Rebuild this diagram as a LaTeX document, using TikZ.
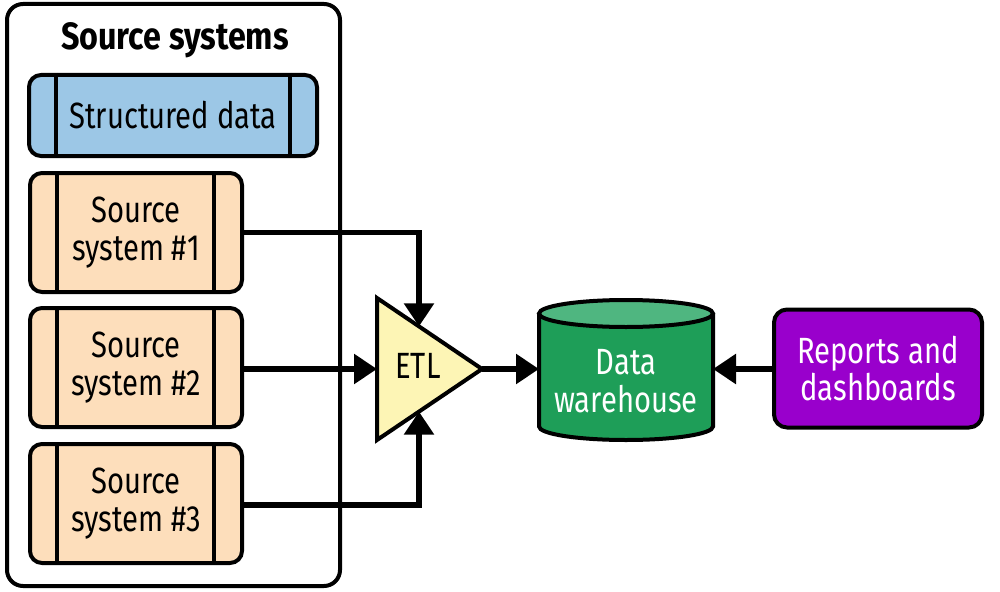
\documentclass[tikz,border=0pt]{standalone}
\usepackage{fontspec}
\setmainfont{Fira Sans}[FakeStretch=0.8]
\newfontfamily\ttlfamily{Fira Sans}[FakeStretch=0.85]
\usetikzlibrary{arrows.meta,calc}
\definecolor{peach}{HTML}{FDDEBB}
\definecolor{skyb}{HTML}{9CC7E6}
\definecolor{etly}{HTML}{FDF5B5}
\definecolor{dwbody}{HTML}{1E9E58}
\definecolor{dwtop}{HTML}{4FB680}
\definecolor{purp}{HTML}{9900CC}
\newcommand{\lblfont}{\fontsize{36.5}{37.5}\selectfont}
\newcommand{\ttlfont}{\ttlfamily\fontsize{38}{40}\selectfont\bfseries}
\begin{document}
\begin{tikzpicture}[x=1pt,y=-1pt,
  outline/.style={draw=black,line width=4pt},
  srcbox/.style={outline,rounded corners=12pt,fill=peach,minimum width=212pt,minimum height=119pt,inner sep=0pt,align=center,font=\lblfont},
  arr/.style={line width=5.5pt,-{Triangle[length=23pt,width=29pt]}},
  wlbl/.style={text=white,align=center,font=\lblfont,inner sep=0pt}]
\useasboundingbox (0,0) rectangle (1000,591);
% outer container
\node[outline,rounded corners=16pt,minimum width=333pt,minimum height=582pt,inner sep=0pt] (cont) at (173.5,295) {};
\node[font=\ttlfont,inner sep=0pt] (title) at (175,40) {Source systems};
% structured data
\node[outline,rounded corners=12pt,fill=skyb,minimum width=288pt,minimum height=81pt,inner sep=0pt,font=\lblfont] (sd) at (173,115.5) {Structured data};
\draw[outline] ($(sd.north west)+(29,0)$) -- ($(sd.south west)+(29,0)$);
\draw[outline] ($(sd.north east)+(-29,0)$) -- ($(sd.south east)+(-29,0)$);
% source systems
\node[srcbox] (s1) at (136,232.5) {Source\\system \#1};
\node[srcbox] (s2) at (136,367.5) {Source\\system \#2};
\node[srcbox] (s3) at (136,503.5) {Source\\system \#3};
\foreach \s in {s1,s2,s3}{
  \draw[outline] ($(\s.north west)+(29,0)$) -- ($(\s.south west)+(29,0)$);
  \draw[outline] ($(\s.north east)+(-30,0)$) -- ($(\s.south east)+(-30,0)$);
}
% ETL triangle
\coordinate (etlT) at (377,298);
\coordinate (etlB) at (377,440);
\coordinate (etlA) at (482,369);
\coordinate (etlL) at (377,369);
\draw[outline,fill=etly,line join=miter] (etlT) -- (etlA) -- (etlB) -- cycle;
\node[font=\lblfont,inner sep=0pt] (etl) at (418,366) {ETL};
% data warehouse cylinder
\coordinate (dwL) at (539,369);
\coordinate (dwR) at (713,369);
\fill[dwbody] (539,313.5) -- (539,426.5) arc[start angle=180,end angle=0,x radius=87,y radius=13.5] -- (713,313.5) -- cycle;
\draw[outline] (539,313.5) -- (539,426.5) arc[start angle=180,end angle=0,x radius=87,y radius=13.5] -- (713,313.5);
\draw[outline,fill=dwtop] (626,313.5) ellipse[x radius=87,y radius=13.5];
\node[wlbl] (dw) at (626,381) {Data\\warehouse};
% reports
\node[outline,rounded corners=13pt,fill=purp,minimum width=208pt,minimum height=118pt,inner sep=0pt,wlbl] (rep) at (878,368.5) {Reports and\\dashboards};
% connectors
\draw[arr] (s1.east) -| ($(etlT)!0.4!(etlA)$);
\draw[arr] (s2.east |- etlL) -- (etlL);
\draw[arr] (s3.east |- 0,505) -| ($(etlB)!0.4!(etlA)$);
\draw[arr] (etlA) -- (dwL);
\draw[arr] (rep.west |- dwR) -- (dwR);
\end{tikzpicture}
\end{document}
